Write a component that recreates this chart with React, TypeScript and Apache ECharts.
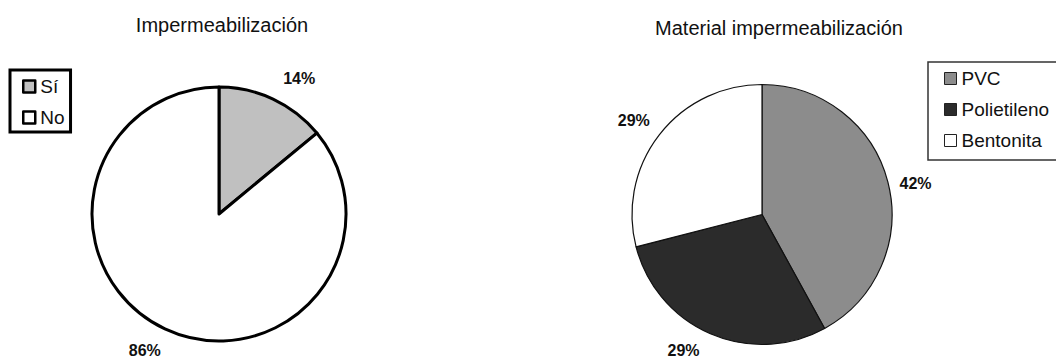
import React, { useEffect, useRef } from "react";
import * as echarts from "echarts";

const leftTitle = "Impermeabilización";
const leftCategories = ["Sí", "No"];
const leftValues = [14, 86];
const leftColors = ["#c0c0c0", "#ffffff"];

const rightTitle = "Material impermeabilización";
const rightCategories = ["PVC", "Polietileno", "Bentonita"];
const rightValues = [42, 29, 29];
const rightColors = ["#8c8c8c", "#2b2b2b", "#ffffff"];

// small label nudges (Excel-like outside-end label placement)
const leftLabelDx = [0, 6];
const leftLabelDy = [-10, 11];
const rightLabelDx = [-5, -1, 5];
const rightLabelDy = [4, 6, -7];

const FONT = "'Liberation Sans', Arial, sans-serif";

export default function App() {
  const ref = useRef<HTMLDivElement>(null);
  useEffect(() => {
    if (!ref.current) return;
    const chart = echarts.init(ref.current, undefined, { renderer: "svg" });
    const labelStyle = {
      show: true,
      position: "outside",
      formatter: "{c}%",
      color: "#111",
      fontFamily: FONT,
      fontSize: 16,
      fontWeight: "bold",
    };
    chart.setOption({
      animation: false,
      backgroundColor: "#ffffff",
      title: [
        {
          text: leftTitle,
          left: 217,
          top: 10,
          textAlign: "center",
          textStyle: { fontFamily: FONT, fontSize: 20, fontWeight: "normal", color: "#111" },
        },
        {
          text: rightTitle,
          left: 774,
          top: 13,
          textAlign: "center",
          textStyle: { fontFamily: FONT, fontSize: 20, fontWeight: "normal", color: "#111" },
        },
      ],
      legend: [
        {
          data: leftCategories,
          orient: "vertical",
          left: 10,
          top: 70,
          icon: "rect",
          itemWidth: 12,
          itemHeight: 12,
          itemGap: 12,
          padding: [7, 6, 5, 12],
          borderColor: "#000",
          borderWidth: 3,
          borderRadius: 0,
          itemStyle: { borderColor: "#000", borderWidth: 2.5 },
          textStyle: { fontFamily: FONT, fontSize: 19, color: "#111" },
        },
        {
          data: rightCategories,
          orient: "vertical",
          left: 928,
          top: 62,
          icon: "rect",
          itemWidth: 12,
          itemHeight: 12,
          itemGap: 12,
          padding: [7, 60, 10, 16],
          borderColor: "#333",
          borderWidth: 1.5,
          borderRadius: 0,
          itemStyle: { borderColor: "#222", borderWidth: 1 },
          textStyle: { fontFamily: FONT, fontSize: 19, color: "#111" },
        },
      ],
      series: [
        {
          type: "pie",
          center: [219, 214],
          radius: 127,
          startAngle: 90,
          clockwise: true,
          avoidLabelOverlap: false,
          label: labelStyle,
          labelLine: { show: false, length: 12, length2: 0 },
          labelLayout: (p: any) => ({ dx: leftLabelDx[p.dataIndex], dy: leftLabelDy[p.dataIndex] }),
          itemStyle: { borderColor: "#000", borderWidth: 3 },
          emphasis: { disabled: true },
          data: leftCategories.map((n, i) => ({
            name: n,
            value: leftValues[i],
            itemStyle: { color: leftColors[i] },
          })),
        },
        {
          type: "pie",
          center: [762, 214.5],
          radius: 130,
          startAngle: 90,
          clockwise: true,
          avoidLabelOverlap: false,
          label: labelStyle,
          labelLine: { show: false, length: 12, length2: 0 },
          labelLayout: (p: any) => ({ dx: rightLabelDx[p.dataIndex], dy: rightLabelDy[p.dataIndex] }),
          itemStyle: { borderColor: "#111", borderWidth: 1.2 },
          emphasis: { disabled: true },
          data: rightCategories.map((n, i) => ({
            name: n,
            value: rightValues[i],
            itemStyle: { color: rightColors[i] },
          })),
        },
      ],
    });
    return () => chart.dispose();
  }, []);
  return <div ref={ref} style={{ width: 1056, height: 360, position: "absolute", left: 0, top: 0 }} />;
}
